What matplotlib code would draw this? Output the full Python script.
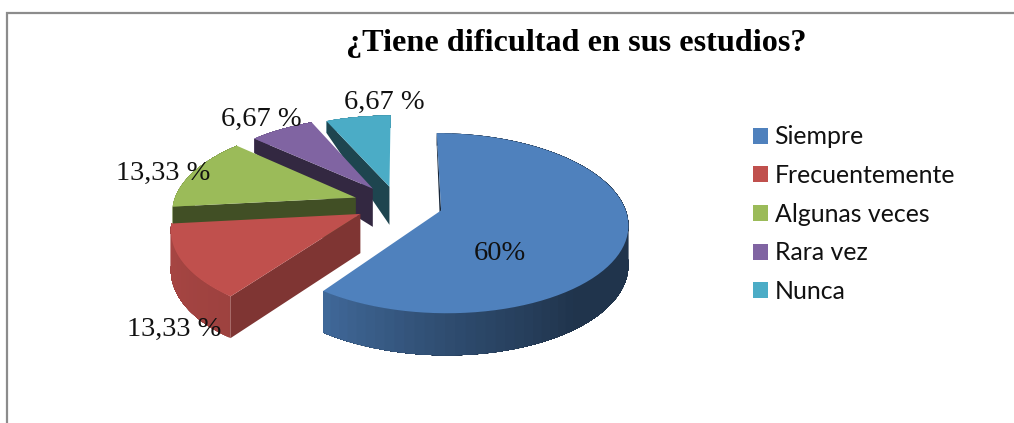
"""3D exploded pie: ¿Tiene dificultad en sus estudios?"""
import matplotlib
matplotlib.use("Agg")
import matplotlib.pyplot as plt
import numpy as np
from matplotlib.patches import Patch

CATEGORIES = ["Siempre", "Frecuentemente", "Algunas veces", "Rara vez", "Nunca"]
VALUES = [60.0, 13.33, 13.33, 6.67, 6.67]
VALUE_LABELS = ["60%", "13,33 %", "13,33 %", "6,67 %", "6,67 %"]
TITLE = "¿Tiene dificultad en sus estudios?"

COLORS = ["#4F81BD", "#C0504D", "#9BBB59", "#8064A2", "#4BACC6"]
EXPLODE = [0.20, 0.27, 0.28, 0.27, 0.26]
NUDGE = [(2, 0), (0, -3), (0, 0), (-3, 2), (-5, 3)]
WALL_SHADE = [0.3, 0.66, 0.42, 0.4, 0.4]
LABEL_POS = [(500, 254), (174, 329), (163, 173), (261, 119), (384, 102)]

# perspective of the pie plane, in pixels
CX, CY = 404, 205
SCALE_X, SCALE_Y, PERSP = 183, 86.7, 0.141


def project(wx, wy):
    denom = 1 + PERSP * wy
    return CX + SCALE_X * wx / denom, CY - SCALE_Y * wy / denom


def depth(wy):
    # the floor of the far slices closes up towards the back
    return np.interp(wy, [0.3, 0.95], [38, 12]) / np.interp(wy, [-1.1, 0.3], [0.9, 1.0])


def outer_shade(theta):
    return np.interp(theta, [100, 140, 180, 216, 264], [0.4, 0.4, 0.6, 0.82, 0.88])


def dim(color, f):
    return tuple(c * f for c in matplotlib.colors.to_rgb(color))


fig, ax = plt.subplots(figsize=(10.14, 4.23), dpi=100)
fig.subplots_adjust(left=0, right=1, top=1, bottom=0)
ax.set_xlim(0, 1014)
ax.set_ylim(423, 0)
ax.axis("off")

# chart frame, only left and top survive the crop
ax.plot([7, 7, 1014], [423, 13, 13], color="#8C8C8C", lw=1.6, solid_joinstyle="miter")

edges = np.concatenate([[0], np.cumsum(VALUES)]) / sum(VALUES) * 360
slices = list(zip(edges[:-1], edges[1:], COLORS, EXPLODE, WALL_SHADE, NUDGE))

# painter's order: back slices first, blue last
for start, stop, color, ex, wall, (nx, ny) in reversed(slices):
    mid = np.radians((start + stop) / 2)
    ox, oy = ex * np.sin(mid), ex * np.cos(mid)
    th = np.radians(np.linspace(start, stop, 80))
    wx, wy = ox + np.sin(th), oy + np.cos(th)
    px, py = project(wx, wy)
    px, py = px + nx, py + ny
    d = depth(wy)

    # rim, one strip per step so the shading can run along it; each strip
    # runs on to the end of the arc so no seams show between neighbours
    for i in range(len(th) - 1):
        ax.fill(np.r_[px[i:], px[i:][::-1]],
                np.r_[py[i:], (py + d)[i:][::-1]],
                color=dim(color, outer_shade(np.degrees(th[i]))), lw=0)

    # cut face at the start angle
    ax0, ay0 = project(ox, oy)
    ax0, ay0 = ax0 + nx, ay0 + ny
    dc = depth(oy)
    ax.fill([ax0, px[0], px[0], ax0], [ay0, py[0], py[0] + d[0], ay0 + dc],
            color=dim(color, wall), lw=0)

    ax.fill(np.r_[ax0, px], np.r_[ay0, py], color=color, lw=0)

for (x, y), text in zip(LABEL_POS, VALUE_LABELS):
    ax.text(x, y, text, ha="center", va="center", family="Liberation Serif",
            fontsize=20.5, color="#111111")

ax.text(576, 43, TITLE, ha="center", va="center", family="Liberation Serif",
        fontweight="bold", fontsize=23.2, color="black")

handles = [Patch(facecolor=c, edgecolor="none") for c in COLORS]
ax.legend(handles, CATEGORIES, loc="upper left", bbox_to_anchor=(746, 118),
          bbox_transform=ax.transData, frameon=False,
          prop={"family": "Lato", "size": 17.9},
          handlelength=0.6, handleheight=0.6, handletextpad=0.25,
          labelspacing=0.63, labelcolor="#111111", borderpad=0.3, borderaxespad=0)

fig.savefig("out.png", dpi=100)
